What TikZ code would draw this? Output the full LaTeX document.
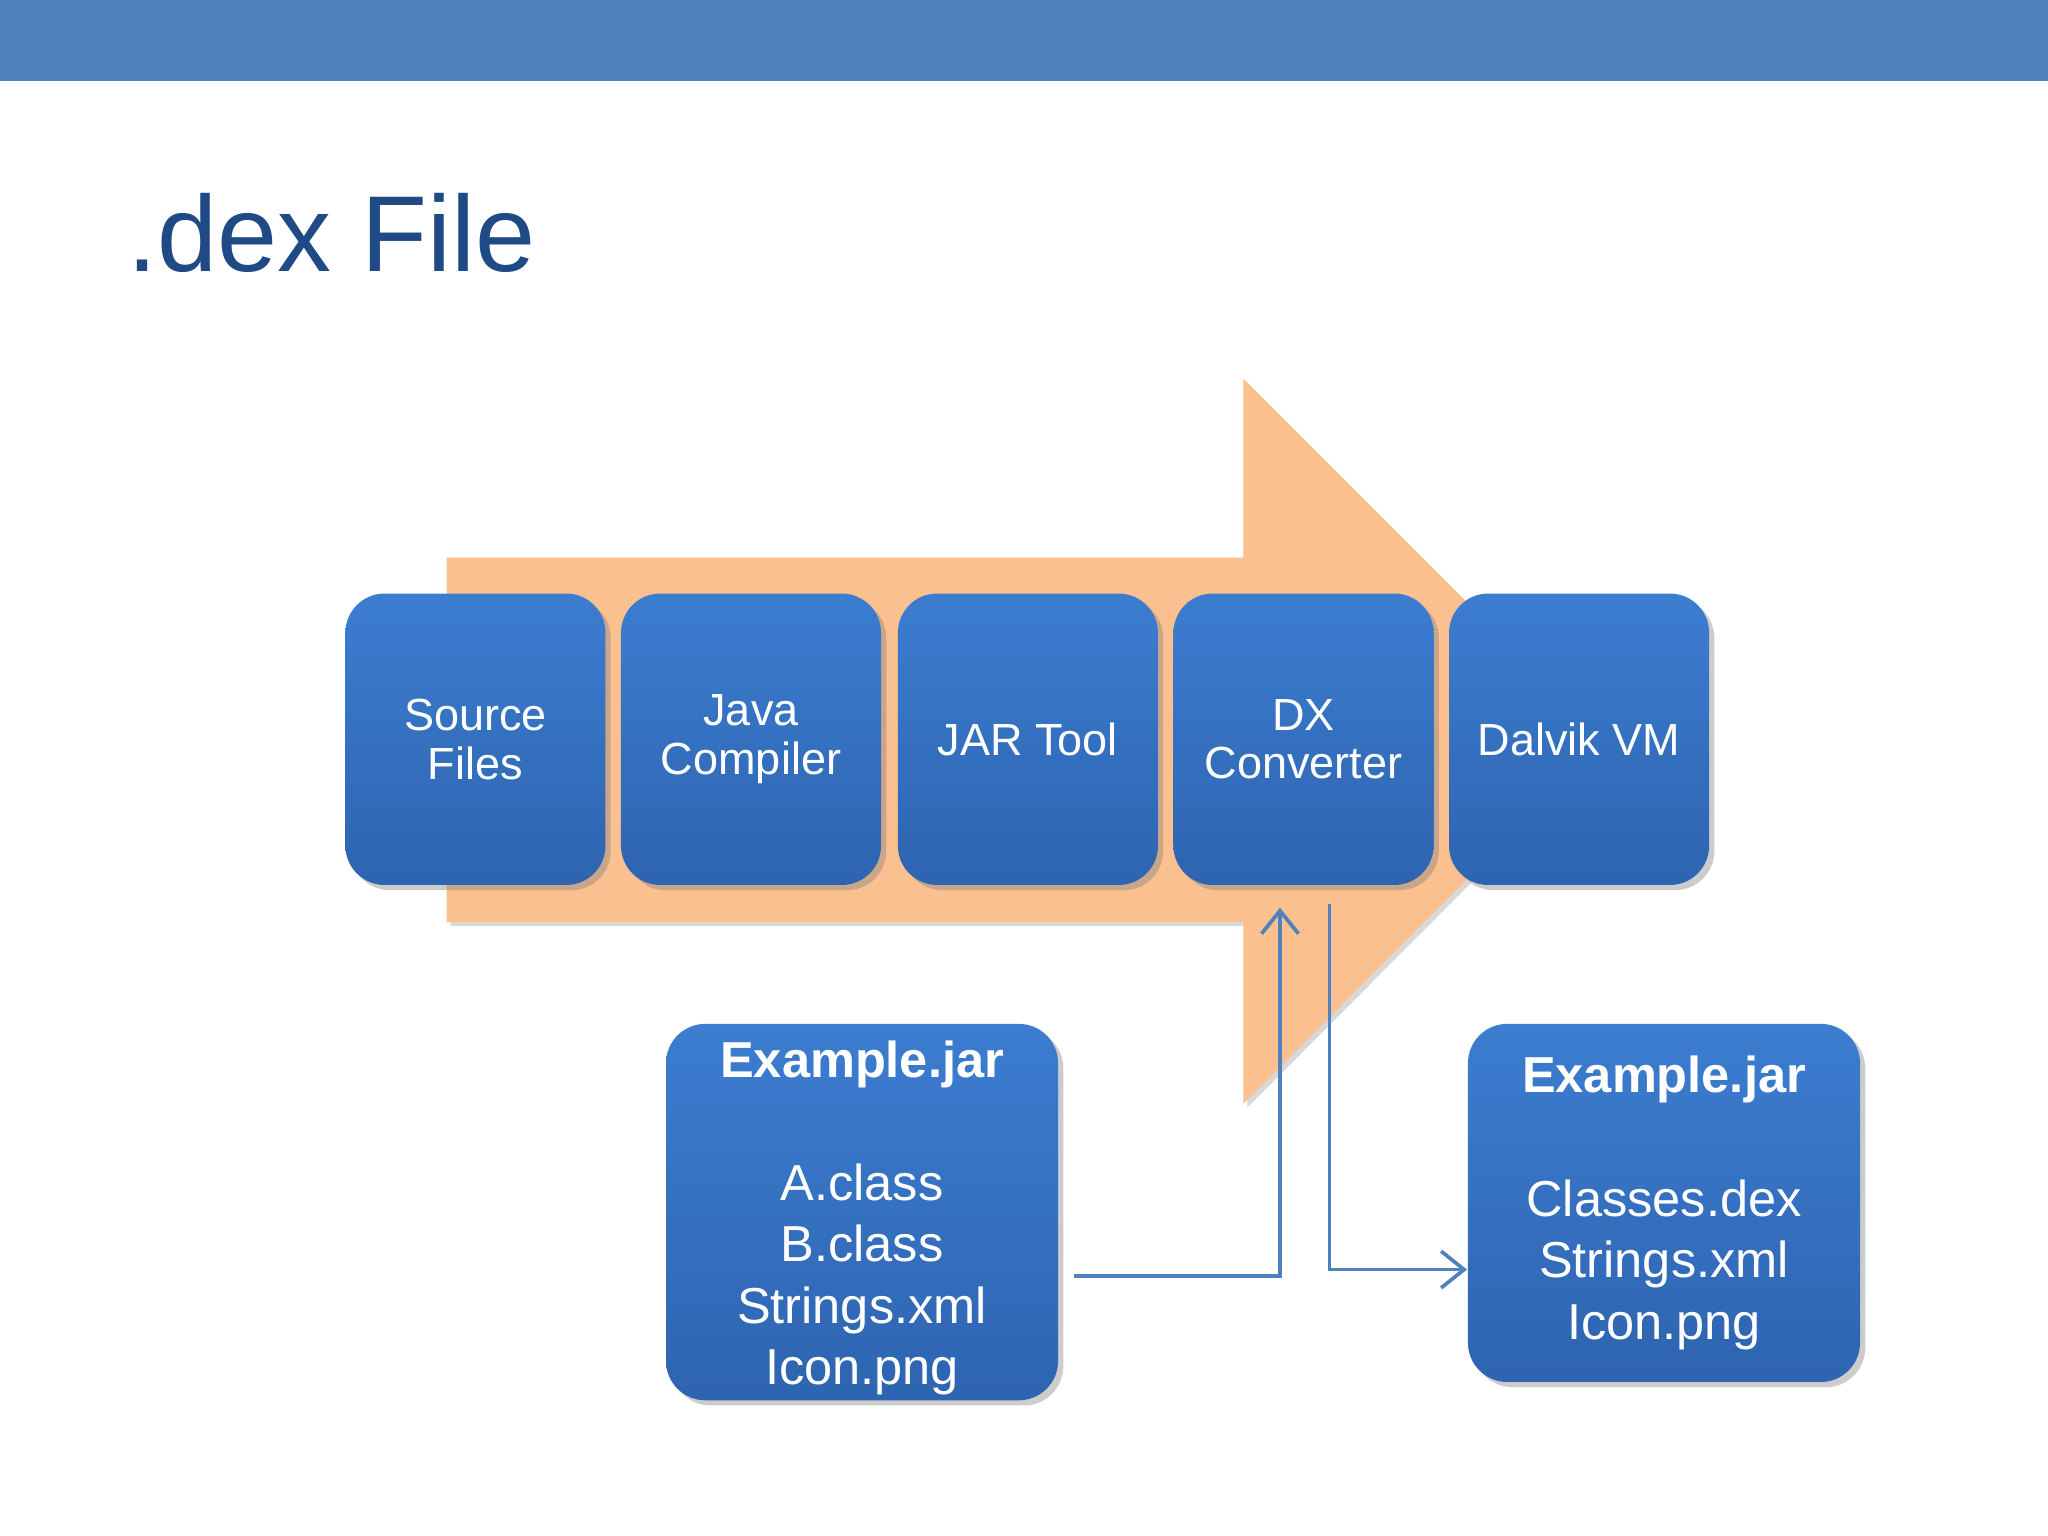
\documentclass[tikz,border=0pt]{standalone}
\usepackage{fontspec}
\setmainfont{Liberation Sans}
\usetikzlibrary{shadows,arrows.meta}
\definecolor{bar}{HTML}{4F81BD}
\definecolor{title}{HTML}{1F4A85}
\definecolor{arr}{HTML}{FAC090}
\definecolor{boxt}{HTML}{3C7DD0}
\definecolor{boxb}{HTML}{2E64B0}
\begin{document}
\begin{tikzpicture}[x=0.01cm,y=-0.01cm,
  box/.style={rounded corners=0.3cm,top color=boxt,bottom color=boxb,draw=none,
    drop shadow={shadow xshift=0.04cm,shadow yshift=-0.04cm,opacity=0.4},
    text=white,align=center,font=\fontsize{9.8pt}{10.6pt}\selectfont,inner sep=0pt},
  conn/.style={draw=bar,line width=0.8pt}]
\useasboundingbox (0,0) rectangle (1568,1176);
\fill[white] (0,0) rectangle (1568,1176);
\fill[bar] (0,0) rectangle (1568,62);
\node[anchor=base west,text=title,font=\fontsize{23.5pt}{25pt}\selectfont,inner sep=0pt] (t) at (97,208) {.dex File};
\fill[arr,drop shadow={shadow xshift=0.03cm,shadow yshift=-0.03cm,opacity=0.3}] (342,427) -- (952,427) -- (952,290) -- (1229,567) -- (952,845) -- (952,706) -- (342,706) -- cycle;
\foreach \n/\x/\t in {s/265/{Source\\Files},j/476/{Java\\Compiler},r/688/{JAR Tool},d/899/{DX\\Converter},v/1110/{Dalvik VM}}{
  \node[box,minimum width=1.99cm,minimum height=2.23cm] (\n) at (\x+99,566) {\t};}
\node[box,minimum width=3.0cm,minimum height=2.88cm] (ea) at (660,928) {};
\node[anchor=north,text=white,align=center,font=\fontsize{11pt}{13.4pt}\selectfont,inner sep=0pt] (eat) at (660,796)
 {\textbf{Example.jar}\\[13.4pt]A.class\\B.class\\Strings.xml\\Icon.png};
\node[box,minimum width=3.0cm,minimum height=2.74cm,font=\fontsize{11pt}{13.4pt}\selectfont] (eb) at (1274,921)
 {\textbf{Example.jar}\\[13.4pt]Classes.dex\\Strings.xml\\Icon.png};
\coordinate (a1) at (822,977);
\coordinate (a2) at (980,695);
\draw[conn,-{Straight Barb[length=5pt,width=8pt]}] (a1) -- (980,977) -- (a2);
\coordinate (b1) at (1018,692);
\draw[conn,-{Straight Barb[length=5pt,width=8pt]}] (b1) -- (1018,972) -- (eb.west |- 0,972);
\end{tikzpicture}
\end{document}
